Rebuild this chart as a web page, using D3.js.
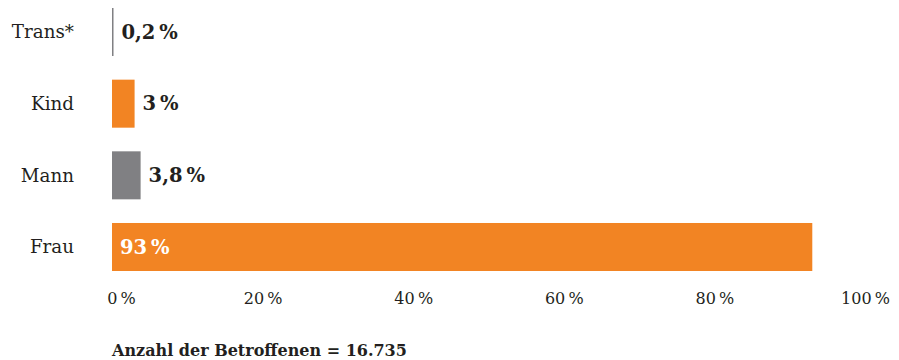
<html lang="de">
<head>
<meta charset="utf-8">
<style>
  body { margin: 0; background: white; }
  svg { background: white; }
  text { font-family: "DejaVu Serif", serif; fill: #231f20; }
  .cat { font-size: 18.3px; }
  .val { font-size: 19.5px; font-weight: bold; }
  .tick text { font-size: 16px; }
  .note { font-size: 16px; font-weight: bold; }
</style>
</head>
<body>
<div id="chart"></div>
<script src="https://d3js.org/d3.v7.min.js"></script>
<script>
var categories = ["Trans*", "Kind", "Mann", "Frau"];
var values = [0.2, 3, 3.8, 93];
var valueLabels = ["0,2\u2009%", "3\u2009%", "3,8\u2009%", "93\u2009%"];
var barColors = ["#808083", "#f28423", "#808083", "#f28423"];
var tickValues = [0, 20, 40, 60, 80, 100];
var note = "Anzahl der Betroffenen = 16.735";

var width = 899, height = 360;
var margin = {left: 112, right: 34, top: 8, bottom: 89};

var svg = d3.select("#chart").append("svg")
    .attr("width", width)
    .attr("height", height);

var x = d3.scaleLinear()
    .domain([0, 100])
    .range([margin.left, width - margin.right]);

var y = d3.scaleBand()
    .domain(categories)
    .range([margin.top, height - margin.bottom])
    .paddingInner(0.33)
    .paddingOuter(0);

var data = categories.map(function(c, i) {
    return {cat: c, value: values[i], label: valueLabels[i], color: barColors[i]};
});

svg.selectAll(".bar")
    .data(data)
    .enter().append("rect")
    .attr("class", "bar")
    .attr("x", x(0))
    .attr("y", function(d) { return y(d.cat); })
    .attr("width", function(d) { return x(d.value) - x(0); })
    .attr("height", y.bandwidth())
    .style("fill", function(d) { return d.color; });

svg.selectAll(".cat")
    .data(data)
    .enter().append("text")
    .attr("class", "cat")
    .attr("x", 74)
    .attr("y", function(d) { return y(d.cat) + y.bandwidth() / 2; })
    .attr("dy", "0.35em")
    .attr("text-anchor", "end")
    .text(function(d) { return d.cat; });

svg.selectAll(".val")
    .data(data)
    .enter().append("text")
    .attr("class", "val")
    .attr("x", function(d) {
        return d.value > 50 ? x(0) + 8 : x(d.value) + 8;
    })
    .attr("y", function(d) { return y(d.cat) + y.bandwidth() / 2; })
    .attr("dy", "0.35em")
    .style("fill", function(d) { return d.value > 50 ? "#ffffff" : "#231f20"; })
    .text(function(d) { return d.label; });

var axis = d3.axisBottom(x)
    .tickValues(tickValues)
    .tickSize(0)
    .tickPadding(0)
    .tickFormat(function(d) { return d + "\u2009%"; });

var gAxis = svg.append("g")
    .attr("class", "axis")
    .attr("transform", "translate(0," + 293 + ")")
    .call(axis);
gAxis.select(".domain").remove();
gAxis.selectAll("text").style("fill", "#231f20").attr("font-family", null);
gAxis.selectAll(".tick").filter(function(d) { return d === 0; })
    .select("text").attr("dx", 9);

svg.append("text")
    .attr("class", "note")
    .attr("x", x(0))
    .attr("y", 356)
    .text(note);
</script>
</body>
</html>
